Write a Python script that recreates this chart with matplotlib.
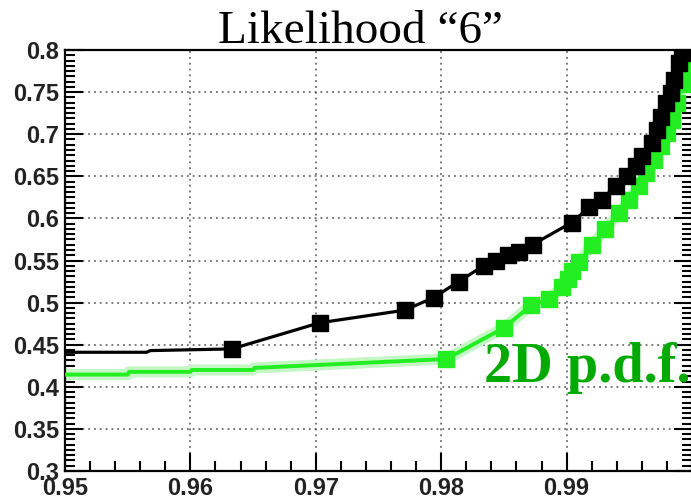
import matplotlib
matplotlib.use("Agg")
from matplotlib import pyplot as plt
from matplotlib.ticker import MultipleLocator

# efficiency (x) vs. rejection (y) for the two selections
lh_x = [0.940, 0.9565, 0.9568, 0.9633, 0.9703, 0.9771, 0.9794, 0.9814, 0.9834, 0.9844,
        0.9853, 0.9862, 0.9873, 0.9904, 0.9918, 0.9928, 0.9939, 0.9948, 0.9955,
        0.9960, 0.9968, 0.9972, 0.9975, 0.9979, 0.9983, 0.9986, 0.9990, 0.9992]
lh_y = [0.441, 0.441, 0.443, 0.445, 0.476, 0.491, 0.506, 0.525, 0.544, 0.549,
        0.556, 0.560, 0.569, 0.595, 0.613, 0.622, 0.639, 0.650, 0.662,
        0.674, 0.689, 0.705, 0.721, 0.737, 0.749, 0.764, 0.784, 0.796]
lh_first_marker = 3

pdf_x = [0.940, 0.9550, 0.9551, 0.9600, 0.9601, 0.9650, 0.9651,
         0.9804, 0.9850, 0.9872, 0.9886, 0.9896, 0.9901, 0.9904, 0.9910, 0.9920,
         0.9931, 0.9942, 0.9950, 0.9958, 0.9963, 0.9970, 0.9975, 0.9980, 0.9984,
         0.9988, 0.9992, 0.9995]
pdf_y = [0.4145, 0.4145, 0.4177, 0.4177, 0.420, 0.420, 0.4224,
         0.433, 0.470, 0.497, 0.504, 0.518, 0.528, 0.538, 0.548, 0.568,
         0.587, 0.607, 0.622, 0.639, 0.654, 0.669, 0.686, 0.701, 0.717,
         0.737, 0.760, 0.776]
pdf_first_marker = 7

xticks = [0.95, 0.96, 0.97, 0.98, 0.99]
yticks = [0.3, 0.35, 0.4, 0.45, 0.5, 0.55, 0.6, 0.65, 0.7, 0.75, 0.8]

title = "Likelihood \u201c6\u201d"
pdf_label = "2D p.d.f."


def main():
    fig = plt.figure(figsize=(6.91, 4.96), dpi=100)
    ax = fig.add_axes([65 / 691, 25 / 496, 627 / 691, 421 / 496])

    # pale halo under the green curve
    ax.plot(pdf_x, pdf_y, '-', color='#c4f7c4', lw=8, solid_capstyle='round', zorder=2)
    ax.plot(pdf_x, pdf_y, 's-', color='#22ee22', lw=2.8, ms=11.5,
            markevery=slice(pdf_first_marker, None), zorder=3)
    ax.plot(lh_x, lh_y, 's-', color='black', lw=2.3, ms=11.5,
            markevery=slice(lh_first_marker, None), zorder=4)

    ax.xaxis.set_minor_locator(MultipleLocator(0.002))
    ax.yaxis.set_minor_locator(MultipleLocator(0.00625))
    ax.set_xticks(xticks)
    ax.set_xticklabels(["%g" % v for v in xticks])
    ax.set_yticks(yticks)
    ax.set_yticklabels(["%g" % v for v in yticks])
    ax.set_xlim(0.95, 1.0)
    ax.set_ylim(0.3, 0.8)

    ax.tick_params(which='both', direction='in', top=False, right=True, width=1.5)
    ax.tick_params(which='major', length=13, pad=4)
    ax.tick_params(which='minor', length=7)
    for lab in ax.get_xticklabels() + ax.get_yticklabels():
        lab.set_fontfamily('Liberation Sans')
        lab.set_fontweight('bold')
        lab.set_fontsize(17)
        lab.set_color('#222222')
    for sp in ax.spines.values():
        sp.set_linewidth(1.6)

    ax.grid(True, which='major', color='#555555', linestyle=(0, (1.2, 2.6)), lw=1.1)
    ax.set_axisbelow(True)

    ax.text(0.9834, 0.406, pdf_label, color='#00aa00', fontsize=40.5,
            fontfamily='Liberation Serif', fontweight='bold',
            ha='left', va='baseline', zorder=5)

    fig.text(360 / 691, (496 - 43) / 496, title, fontsize=34,
             fontfamily='Liberation Serif', ha='center', va='baseline')

    fig.savefig("out.png", dpi=100)


if __name__ == '__main__':
    main()
